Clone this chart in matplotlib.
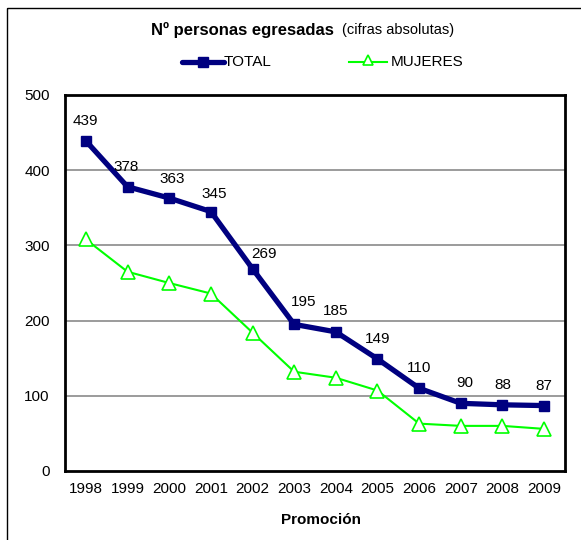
import matplotlib
matplotlib.use('Agg')
import matplotlib.pyplot as plt
from matplotlib.patches import Rectangle

plt.rcParams['font.family'] = ['Liberation Sans', 'DejaVu Sans']

# ── data ──────────────────────────────────────────────────────────────────────
years = ['1998', '1999', '2000', '2001', '2002', '2003',
         '2004', '2005', '2006', '2007', '2008', '2009']
total = [439, 378, 363, 345, 269, 195, 185, 149, 110, 90, 88, 87]
mujeres = [308, 265, 250, 236, 184, 132, 124, 107, 63, 60, 60, 56]

# label offsets in pixels (dx, dy) relative to each TOTAL point
label_dx = [0, -1, 3, 3, 11, 9, 0, 0, 0, 4, 0, 0]
label_dy = [20, 20, 19, 18, 15, 22, 21, 20, 20, 20, 20, 20]

C_TOTAL = '#000080'
C_MUJ = '#00FF00'
W, H = 581, 540

fig = plt.figure(figsize=(W / 100, H / 100), dpi=100)

# overlay in pixel coordinates for title, legend and frame
ov = fig.add_axes([0, 0, 1, 1], zorder=0)
ov.set_xlim(0, W)
ov.set_ylim(H, 0)
ov.axis('off')

ax = fig.add_axes([65 / W, 1 - 471 / H, 500 / W, 376 / H], zorder=1)

x = list(range(len(years)))

ax.plot(x, total, color=C_TOTAL, lw=3.8, marker='s', ms=6.5,
        solid_joinstyle='miter', zorder=4)
ax.plot(x, mujeres, color=C_MUJ, lw=1.5, marker='^', ms=10.5,
        markerfacecolor='white', markeredgecolor=C_MUJ, markeredgewidth=1.2,
        zorder=3)

for i, v in enumerate(total):
    ax.annotate(str(v), (i, v), xytext=(label_dx[i], label_dy[i]),
                textcoords='offset pixels', ha='center', va='center',
                fontsize=11, color='black', zorder=5, annotation_clip=False)

ax.set_xlim(-0.5, len(years) - 0.5)
ax.set_ylim(0, 500)
ax.set_yticks([0, 100, 200, 300, 400, 500])
ax.set_xticks(x)
ax.set_xticklabels(years)
ax.tick_params(axis='both', length=0, labelsize=11)
ax.tick_params(axis='x', pad=8)
ax.tick_params(axis='y', pad=11)
for y in [100, 200, 300, 400]:
    ax.axhline(y, color='#808080', lw=1.1, zorder=1)
for s in ax.spines.values():
    s.set_linewidth(2)
    s.set_color('black')
ax.set_facecolor('none')

ov.text(321, 520, 'Promoción', ha='center', va='center',
        fontsize=11, fontweight='bold')

# ── title ─────────────────────────────────────────────────────────────────────
ov.text(334, 30, 'Nº personas egresadas', ha='right', va='center',
        fontsize=12, fontweight='bold')
ov.text(342, 30, '(cifras absolutas)', ha='left', va='center', fontsize=10.5)

# ── legend ────────────────────────────────────────────────────────────────────
ov.plot([182, 224], [62, 62], color=C_TOTAL, lw=3.8, solid_capstyle='round')
ov.plot([203], [62], marker='s', color=C_TOTAL, ms=6.5)
ov.text(224, 62, 'TOTAL', ha='left', va='center', fontsize=11)
ov.plot([349, 387], [62, 62], color=C_MUJ, lw=1.5)
ov.plot([368], [60], marker='^', ms=7, markerfacecolor='white',
        markeredgecolor=C_MUJ, markeredgewidth=1.2)
ov.text(391, 62, 'MUJERES', ha='left', va='center', fontsize=11)

# ── outer border (runs off the right and bottom edges) ───────────────────────
ov.add_patch(Rectangle((7, 8), 600, 600, fill=False, edgecolor='black',
                       lw=1.0))

fig.savefig('out.png', dpi=100)
